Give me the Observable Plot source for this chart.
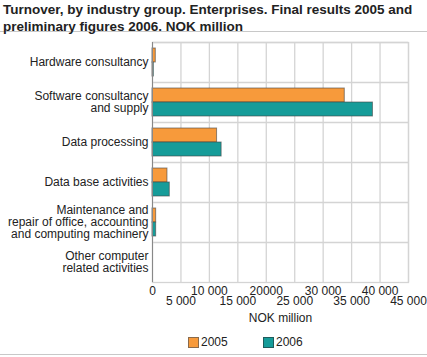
<!DOCTYPE html>
<html>
<head>
<meta charset="utf-8">
<script src="https://cdn.jsdelivr.net/npm/d3@7"></script>
<script src="https://cdn.jsdelivr.net/npm/@observablehq/plot@0.6"></script>
<style>
  html, body { margin: 0; padding: 0; background: #fff; }
  body { width: 427px; height: 357px; overflow: hidden; font-family: "Liberation Sans", Arial, sans-serif; position: relative; }
  #title { font-weight: bold; font-size: 13.5px; line-height: 17px; color: #222; padding: 1px 0 0 3px; height: 30px; border-bottom: 1px solid #c8c8c8; box-sizing: content-box; white-space: nowrap; }
  #chart { height: 300px; }
  #chart svg { display: block; }
  #legend { position: relative; height: 22px; border-bottom: 1px solid #c8c8c8; font-size: 12px; color: #222; }
  .item { position: absolute; top: 3px; display: flex; align-items: center; }
  .sw { width: 9px; height: 9px; margin-right: 2px; }
</style>
</head>
<body>
<div id="title">Turnover, by industry group. Enterprises. Final results 2005 and<br>preliminary figures 2006. NOK million</div>
<div id="chart"></div>
<div id="legend"></div>
<script>
const categories = [
  "Hardware consultancy",
  "Software consultancy\nand supply",
  "Data processing",
  "Data base activities",
  "Maintenance and\nrepair of office, accounting\nand computing machinery",
  "Other computer\nrelated activities"
];
const values2005 = [580, 33800, 11350, 2630, 640, 0];
const values2006 = [230, 38750, 12150, 3040, 640, 0];
const years = ["2005", "2006"];
const colors = ["#f79a3b", "#169c99"];
const xTicksRow1 = [0, 10000, 20000, 30000, 40000];
const xTicksRow2 = [5000, 15000, 25000, 35000, 45000];
const xTicks = [0, 5000, 10000, 15000, 20000, 25000, 30000, 35000, 40000, 45000];
const xTickLabels = ["0", "5 000", "10 000", "15 000", "20000", "25 000", "30 000", "35 000", "40 000", "45 000"];
const xLabel = "NOK million";

const rows2005 = categories.map((c, i) => ({category: c, value: values2005[i]}));
const rows2006 = categories.map((c, i) => ({category: c, value: values2006[i]}));
const fmt = d => xTickLabels[xTicks.indexOf(d)];

const chart = Plot.plot({
  width: 427,
  height: 300,
  marginTop: 10,
  marginBottom: 50,
  marginLeft: 152,
  marginRight: 19,
  style: {fontFamily: "'Liberation Sans', Arial, sans-serif", fontSize: "12px", color: "#222", background: "#fff"},
  x: {domain: [0, 45000]},
  y: {domain: categories, padding: 0},
  marks: [
    Plot.ruleX(xTicks, {x: d => d, stroke: "#d4d4d4", strokeWidth: 1.3}),
    Plot.ruleY(categories, {y: d => d, dy: -20, stroke: "#d4d4d4", strokeWidth: 1.3}),
    Plot.frame({stroke: "#d4d4d4", strokeWidth: 1.3}),
    Plot.barX(rows2005, {x: "value", y: "category", fill: colors[0], stroke: "#444", strokeOpacity: 0.6, strokeWidth: 1, insetTop: 6, insetBottom: 20}),
    Plot.barX(rows2006, {x: "value", y: "category", fill: colors[1], stroke: "#444", strokeOpacity: 0.6, strokeWidth: 1, insetTop: 20, insetBottom: 6}),
    Plot.ruleX([0], {stroke: "#888", strokeWidth: 1}),
    Plot.axisY({tickSize: 0, tickPadding: 4, label: null, lineHeight: 1}),
    Plot.axisX(xTicksRow1, {tickSize: 0, tickPadding: 4, tickFormat: fmt, label: null}),
    Plot.axisX(xTicksRow2, {tickSize: 0, tickPadding: 14, tickFormat: fmt, label: null}),
    Plot.text([xLabel], {frameAnchor: "bottom", dy: 39, text: d => d, fill: "#222"})
  ]
});
document.getElementById("chart").appendChild(chart);

const legend = document.getElementById("legend");
const lefts = [188, 263];
years.forEach((y, i) => {
  const it = document.createElement("div");
  it.className = "item";
  it.style.left = lefts[i] + "px";
  const sw = document.createElement("span");
  sw.className = "sw";
  sw.style.background = colors[i];
  sw.style.border = "1px solid " + (i === 0 ? "#8a6a4a" : "#1f5c5c");
  it.appendChild(sw);
  const t = document.createElement("span");
  t.textContent = y;
  it.appendChild(t);
  legend.appendChild(it);
});
</script>
</body>
</html>
